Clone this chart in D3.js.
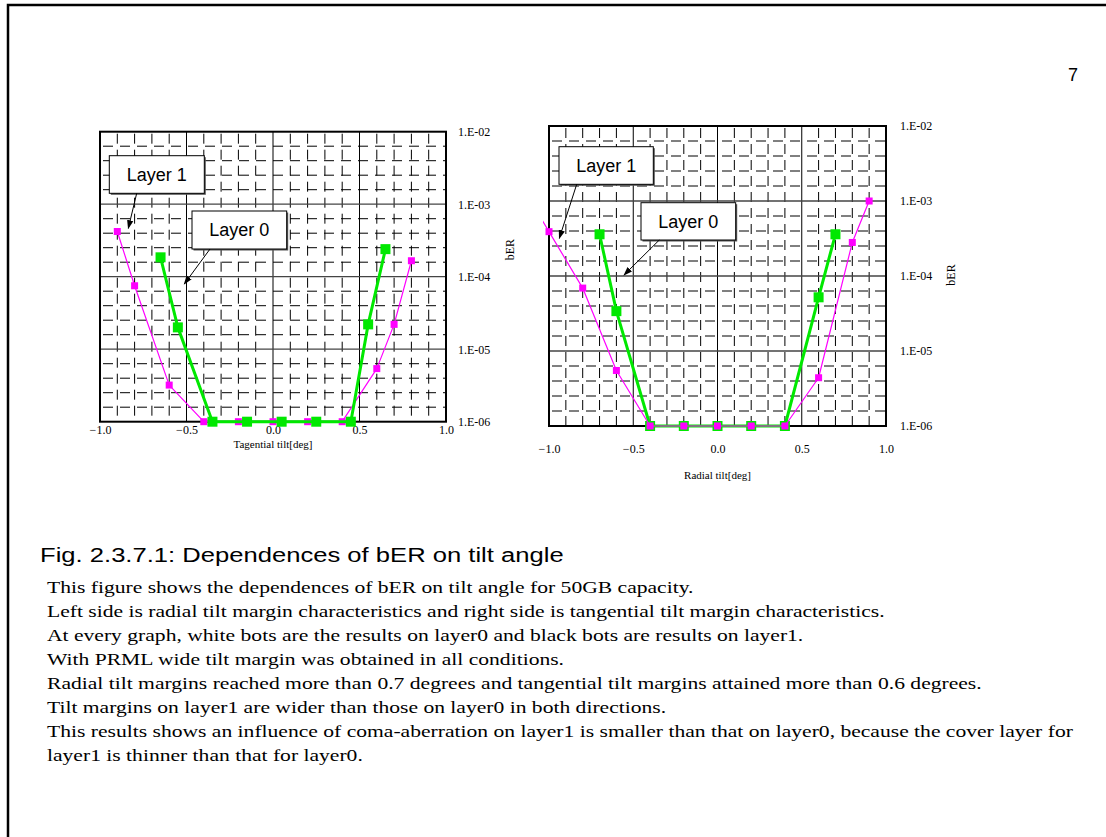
<!DOCTYPE html>
<html>
<head>
<meta charset="utf-8">
<script src="https://cdn.jsdelivr.net/npm/d3@7"></script>
<style>
  body { margin: 0; background: #fff; }
  svg text { fill: #000; }
</style>
</head>
<body>
<svg id="page" width="1106" height="837"></svg>
<script>
// tangential tilt chart (left)
const tanLayer1X = [-0.9, -0.8, -0.6, -0.4, -0.2, 0.0, 0.2, 0.4, 0.6, 0.7, 0.8];
const tanLayer1Y = [4.2e-4, 7.5e-5, 3.2e-6, 1e-6, 1e-6, 1e-6, 1e-6, 1e-6, 5.4e-6, 2.2e-5, 1.66e-4];
const tanLayer0X = [-0.65, -0.55, -0.35, -0.15, 0.05, 0.25, 0.45, 0.55, 0.65];
const tanLayer0Y = [1.85e-4, 2.0e-5, 1e-6, 1e-6, 1e-6, 1e-6, 1e-6, 2.2e-5, 2.4e-4];

// radial tilt chart (right)
const radLayer1X = [-1.1, -1.0, -0.8, -0.6, -0.4, -0.2, 0.0, 0.2, 0.4, 0.6, 0.8, 0.9];
const radLayer1Y = [9.3e-4, 3.9e-4, 6.9e-5, 5.5e-6, 1e-6, 1e-6, 1e-6, 1e-6, 1e-6, 4.4e-6, 2.8e-4, 1e-3];
const radLayer0X = [-0.7, -0.6, -0.4, -0.2, 0.0, 0.2, 0.4, 0.6, 0.7];
const radLayer0Y = [3.6e-4, 3.4e-5, 1e-6, 1e-6, 1e-6, 1e-6, 1e-6, 5.2e-5, 3.6e-4];

const xTickValues = [-1.0, -0.5, 0.0, 0.5, 1.0];
const yTickValues = [1e-6, 1e-5, 1e-4, 1e-3, 1e-2];
const yTickLabels = ["1.E-06", "1.E-05", "1.E-04", "1.E-03", "1.E-02"];

const bodyLines = [
  "This figure shows the dependences of bER on tilt angle for 50GB capacity.",
  "Left side is radial tilt margin characteristics and right side is tangential tilt margin characteristics.",
  "At every graph, white bots are the results on layer0 and black bots are results on layer1.",
  "With PRML wide tilt margin was obtained in all conditions.",
  "Radial tilt margins reached more than 0.7 degrees and tangential tilt margins attained more than 0.6 degrees.",
  "Tilt margins on layer1 are wider than those on layer0 in both directions.",
  "This results shows an influence of coma-aberration on layer1 is smaller than that on layer0, because the cover layer for",
  "layer1 is thinner than that for layer0."
];

const serif = "'Liberation Serif', 'Times New Roman', serif";
const sans = "'Liberation Sans', Arial, sans-serif";
const green = "#00e800";
const magenta = "#ff00ff";

const svg = d3.select("#page");

// page frame
svg.append("rect")
  .attr("x", 8).attr("y", 5)
  .attr("width", 1200).attr("height", 1000)
  .attr("fill", "none").attr("stroke", "#000").attr("stroke-width", 2.5);

svg.append("text")
  .attr("x", 1073).attr("y", 81)
  .attr("text-anchor", "middle")
  .attr("font-family", sans).attr("font-size", 18)
  .text("7");

function drawChart(cfg) {
  const {left, top, width, height} = cfg;
  const g = svg.append("g").attr("transform", `translate(${left},${top})`);

  const x = d3.scaleLinear().domain([-1, 1]).range([0, width]);
  const y = d3.scaleLog().domain([1e-6, 1e-2]).range([height, 0]);

  // minor dashed grid
  const minorX = d3.range(-9, 10).filter(d => d % 5 !== 0).map(d => d / 10);
  const minorY = d3.range(0, 20).filter(d => d % 5 !== 0).map(d => Math.pow(10, -6 + d / 5));

  g.append("g").selectAll("line").data(minorX).join("line")
    .attr("x1", d => x(d)).attr("x2", d => x(d))
    .attr("y1", 0).attr("y2", height)
    .attr("stroke", "#000").attr("stroke-width", 1)
    .attr("stroke-dasharray", "10,6").attr("stroke-dashoffset", -2);

  g.append("g").selectAll("line").data(minorY).join("line")
    .attr("x1", 0).attr("x2", width)
    .attr("y1", d => y(d)).attr("y2", d => y(d))
    .attr("stroke", "#000").attr("stroke-width", 1)
    .attr("stroke-dasharray", "10,7").attr("stroke-dashoffset", -3);

  // major grid
  g.append("g").selectAll("line").data(xTickValues.slice(1, -1)).join("line")
    .attr("x1", d => x(d)).attr("x2", d => x(d))
    .attr("y1", 0).attr("y2", height)
    .attr("stroke", "#000").attr("stroke-width", 1);

  g.append("g").selectAll("line").data(yTickValues.slice(1, -1)).join("line")
    .attr("x1", 0).attr("x2", width)
    .attr("y1", d => y(d)).attr("y2", d => y(d))
    .attr("stroke", "#444").attr("stroke-width", 1.3);

  // frame
  g.append("rect")
    .attr("width", width).attr("height", height)
    .attr("fill", "none").attr("stroke", "#000").attr("stroke-width", 2);

  // x axis labels
  const xAxis = d3.axisBottom(x).tickValues(xTickValues).tickSize(0).tickFormat(d3.format(".1f"));
  g.append("g")
    .attr("transform", `translate(0,${height + cfg.xLabelGap})`)
    .call(xAxis)
    .call(a => a.select(".domain").remove())
    .call(a => a.selectAll("text").attr("font-family", serif).attr("font-size", 12).attr("fill", "#000").attr("dy", 0));

  // y axis labels on right
  const yAxis = d3.axisRight(y).tickValues(yTickValues).tickSize(0)
    .tickFormat((d, i) => yTickLabels[i]);
  g.append("g")
    .attr("transform", `translate(${width + cfg.yLabelGap},0)`)
    .call(yAxis)
    .call(a => a.select(".domain").remove())
    .call(a => a.selectAll("text").attr("font-family", serif).attr("font-size", 12).attr("fill", "#000").attr("x", 0));

  g.append("text")
    .attr("x", width / 2).attr("y", cfg.xTitleY)
    .attr("text-anchor", "middle")
    .attr("font-family", serif).attr("font-size", 11)
    .text(cfg.xTitle);

  g.append("text")
    .attr("transform", `translate(${cfg.yTitleX},${cfg.yTitleY}) rotate(-90)`)
    .attr("text-anchor", "middle")
    .attr("font-family", serif).attr("font-size", 12)
    .text("bER");

  // series
  const clipId = "clip-" + cfg.id;
  g.append("clipPath").attr("id", clipId)
    .append("rect").attr("x", -6).attr("y", -6).attr("width", width + 12).attr("height", height + 12);

  const line = d3.line().x(d => x(d[0])).y(d => y(d[1]));
  const inside = d => d[0] >= -1 && d[0] <= 1;

  cfg.series.forEach(s => {
    const pts = s.xs.map((v, i) => [v, s.ys[i]]);
    const sg = g.append("g").attr("clip-path", `url(#${clipId})`);
    sg.append("path").datum(pts)
      .attr("fill", "none").attr("stroke", s.color).attr("stroke-width", s.lw)
      .attr("stroke-linejoin", "round").attr("d", line);
    sg.selectAll("rect").data(pts.filter(inside)).join("rect")
      .attr("x", d => x(d[0]) - s.size / 2).attr("y", d => y(d[1]) - s.size / 2)
      .attr("width", s.size).attr("height", s.size)
      .attr("fill", s.color);
  });

  // callouts
  cfg.notes.forEach(n => {
    g.append("rect")
      .attr("x", n.bx + 1.5).attr("y", n.by + 1.5).attr("width", n.bw).attr("height", n.bh)
      .attr("fill", "#555");
    g.append("rect")
      .attr("x", n.bx).attr("y", n.by).attr("width", n.bw).attr("height", n.bh)
      .attr("fill", "#fff").attr("stroke", "#000").attr("stroke-width", 1);
    g.append("text")
      .attr("x", n.bx + n.bw / 2).attr("y", n.by + n.bh / 2 + 6.5)
      .attr("text-anchor", "middle")
      .attr("font-family", sans).attr("font-size", 18)
      .text(n.label);
    g.append("line")
      .attr("x1", n.ax1).attr("y1", n.ay1).attr("x2", n.ax2).attr("y2", n.ay2)
      .attr("stroke", "#000").attr("stroke-width", 1)
      .attr("marker-end", "url(#arrow)");
  });
}

svg.append("defs").append("marker")
  .attr("id", "arrow")
  .attr("viewBox", "0 0 10 10").attr("refX", 9).attr("refY", 5)
  .attr("markerWidth", 9).attr("markerHeight", 9)
  .attr("orient", "auto")
  .append("path").attr("d", "M0,1.5 L10,5 L0,8.5 Z").attr("fill", "#000");

drawChart({
  id: "tan", left: 100, top: 131.7, width: 346, height: 290,
  xLabelGap: 9.5, yLabelGap: 12, xTitle: "Tagential tilt[deg]", xTitleY: 316,
  yTitleX: 414, yTitleY: 118,
  series: [
    {xs: tanLayer1X, ys: tanLayer1Y, color: magenta, lw: 1.2, size: 7},
    {xs: tanLayer0X, ys: tanLayer0Y, color: green, lw: 3, size: 10}
  ],
  notes: [
    {label: "Layer 1", bx: 9.3, by: 24, bw: 95, bh: 37.6, ax1: 36.7, ay1: 61.6, ax2: 28.3, ay2: 96.6},
    {label: "Layer 0", bx: 92, by: 79.3, bw: 94.7, bh: 38, ax1: 110, ay1: 117.3, ax2: 84.3, ay2: 152.3}
  ]
});

drawChart({
  id: "rad", left: 549, top: 126, width: 337, height: 300,
  xLabelGap: 24, yLabelGap: 14, xTitle: "Radial tilt[deg]", xTitleY: 353,
  yTitleX: 406, yTitleY: 149,
  series: [
    {xs: radLayer0X, ys: radLayer0Y, color: green, lw: 3, size: 10},
    {xs: radLayer1X, ys: radLayer1Y, color: magenta, lw: 1.2, size: 7}
  ],
  notes: [
    {label: "Layer 1", bx: 10, by: 20.7, bw: 94.3, bh: 37.6, ax1: 27.7, ay1: 58.3, ax2: 10.3, ay2: 112.3},
    {label: "Layer 0", bx: 92, by: 76.7, bw: 94.7, bh: 37.3, ax1: 110.3, ay1: 114, ax2: 75, ay2: 149}
  ]
});

// caption (the source page's text runs wide, so stretch it horizontally)
svg.append("text")
  .attr("transform", "translate(40,562) scale(1.28,1)")
  .attr("font-family", sans).attr("font-size", 20)
  .text("Fig. 2.3.7.1: Dependences of bER on tilt angle");

svg.append("g")
  .attr("transform", "translate(47,0) scale(1.27,1)")
  .selectAll("text").data(bodyLines).join("text")
  .attr("x", 0).attr("y", (d, i) => 593 + i * 24)
  .attr("font-family", serif).attr("font-size", 17)
  .text(d => d);
</script>
</body>
</html>
